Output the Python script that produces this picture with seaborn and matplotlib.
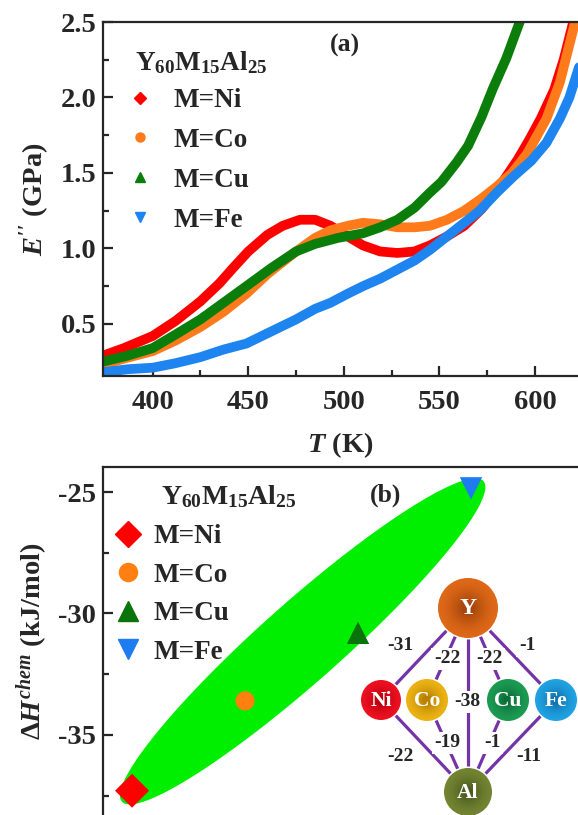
import numpy as np
import pandas as pd
import matplotlib
matplotlib.use("Agg")
import matplotlib.pyplot as plt
import seaborn as sns
from matplotlib.lines import Line2D
from matplotlib.patches import Circle
from matplotlib.ticker import MultipleLocator, FormatStrFormatter
from matplotlib.colors import to_rgb

# ---- panel (a): loss modulus vs temperature ----
alloys = ["M=Ni", "M=Co", "M=Cu", "M=Fe"]
colors = ["#fe0000", "#ff7a1a", "#0b7d0b", "#1e84ef"]

T_ni = [374, 385, 400, 412, 425, 435, 442, 450, 460, 468, 477, 485, 493, 502, 510, 519, 528, 537,
        545, 554, 563, 572, 582, 591, 597, 603, 610, 615, 620]
E_ni = [0.29, 0.34, 0.42, 0.52, 0.65, 0.77, 0.87, 0.98, 1.09, 1.15, 1.19, 1.19, 1.15, 1.08, 1.02,
        0.98, 0.97, 0.98, 1.02, 1.08, 1.15, 1.26, 1.42, 1.59, 1.72, 1.86, 2.05, 2.25, 2.50]
T_co = [374, 385, 400, 412, 425, 437, 449, 460, 468, 475, 485, 493, 502, 510, 519, 528, 537, 545,
        554, 563, 572, 580, 588, 596, 606, 613, 621]
E_co = [0.23, 0.27, 0.32, 0.39, 0.48, 0.58, 0.70, 0.83, 0.91, 0.98, 1.07, 1.12, 1.15, 1.17, 1.16,
        1.14, 1.14, 1.15, 1.19, 1.25, 1.33, 1.41, 1.50, 1.63, 1.86, 2.10, 2.50]
T_cu = [374, 387, 400, 412, 425, 437, 449, 462, 475, 485, 497, 510, 519, 528, 537, 545, 551, 559,
        565, 572, 578, 585, 592]
E_cu = [0.25, 0.29, 0.34, 0.43, 0.53, 0.64, 0.75, 0.87, 0.98, 1.03, 1.07, 1.10, 1.14, 1.19, 1.27,
        1.37, 1.44, 1.57, 1.68, 1.87, 2.06, 2.26, 2.50]
T_fe = [374, 387, 400, 412, 425, 437, 449, 462, 475, 485, 493, 502, 510, 519, 528, 537, 545, 554,
        563, 571, 580, 589, 598, 606, 613, 618, 623]
E_fe = [0.18, 0.20, 0.21, 0.24, 0.28, 0.33, 0.37, 0.45, 0.53, 0.60, 0.64, 0.70, 0.75, 0.80, 0.86,
        0.92, 0.99, 1.08, 1.17, 1.25, 1.37, 1.48, 1.58, 1.70, 1.86, 2.00, 2.20]

# ---- panel (b): mixing enthalpy ----
dH_chem = [-37.3, -33.6, -30.8, -24.85]
colors_b = ["#ff0000", "#ff8010", "#0a730a", "#1e7cf0"]
markers_b = ["D", "o", "^", "v"]
sizes_b = [300, 190, 260, 260]
ellipse_ends = [(-0.09, -37.75), (3.11, -24.55)]

# bond diagram (pair enthalpies)
atoms = ["Y", "Ni", "Co", "Cu", "Fe", "Al"]
bond_pairs = [("Y", "Ni"), ("Y", "Co"), ("Y", "Cu"), ("Y", "Fe"), ("Y", "Al"),
              ("Ni", "Al"), ("Co", "Al"), ("Cu", "Al"), ("Fe", "Al")]
bond_values = ["-31", "-22", "-22", "-1", "-38", "-22", "-19", "-1", "-11"]

sns.set_style("ticks")
plt.rcParams["font.family"] = ["Liberation Serif", "DejaVu Serif"]
plt.rcParams["font.weight"] = "bold"
plt.rcParams["axes.labelweight"] = "bold"
plt.rcParams["mathtext.fontset"] = "custom"
plt.rcParams["mathtext.rm"] = "Liberation Serif:bold"
plt.rcParams["mathtext.it"] = "Liberation Serif:italic:bold"
plt.rcParams["mathtext.bf"] = "Liberation Serif:bold"

W, H = 578, 815
fig = plt.figure(figsize=(W / 100, H / 100), dpi=100)
fs = 19.5
tfs = 20.5


def fbox(l, t, r, b):
    return [l / W, 1 - b / H, (r - l) / W, (b - t) / H]


def style_axes(ax):
    for s in ax.spines.values():
        s.set_linewidth(1.6)
    ax.tick_params(which="both", direction="in", width=1.6, labelsize=tfs)
    ax.tick_params(which="major", length=7)
    ax.tick_params(which="minor", length=4.5)
    ax.tick_params(axis="y", pad=5)
    ax.tick_params(axis="x", pad=10)
    ax.spines["right"].set_visible(False)


# ---------- (a) ----------
ax1 = fig.add_axes(fbox(103, 22, 578, 376))
frames = []
for name, t, e in zip(alloys, [T_ni, T_co, T_cu, T_fe], [E_ni, E_co, E_cu, E_fe]):
    frames.append(pd.DataFrame({"T": t, "E": e, "alloy": name}))
curves = pd.concat(frames, ignore_index=True)
sns.lineplot(data=curves, x="T", y="E", hue="alloy", palette=colors, lw=7,
             estimator=None, sort=False, legend=False, ax=ax1)
ax1.set_xlim(374, 622.5)
ax1.set_ylim(0.155, 2.5)
ax1.xaxis.set_major_locator(MultipleLocator(50))
ax1.xaxis.set_minor_locator(MultipleLocator(25))
ax1.yaxis.set_major_locator(MultipleLocator(0.5))
ax1.yaxis.set_minor_locator(MultipleLocator(0.25))
ax1.yaxis.set_major_formatter(FormatStrFormatter("%.1f"))
style_axes(ax1)
ax1.set_xlabel(r"$T$ (K)", fontsize=fs + 1, labelpad=11)
ax1.set_ylabel(r"$E''$ (GPa)", fontsize=fs + 1, labelpad=6)
ax1.text(0.51, 0.935, "(a)", transform=ax1.transAxes, fontsize=fs - 1, ha="center", va="center")
ax1.text(0.068, 0.885, r"Y$_{60}$M$_{15}$Al$_{25}$", transform=ax1.transAxes, fontsize=fs,
         ha="left", va="center")
handles_a = [Line2D([], [], ls="none", marker=m, color=c, markersize=ms)
             for m, c, ms in zip(["D", "o", "^", "v"], colors, [6.5, 6.5, 7, 7])]
ax1.legend(handles_a, alloys, loc="upper left", bbox_to_anchor=(126 / W, 1 - 88 / H),
           bbox_transform=fig.transFigure, frameon=False, fontsize=fs, handlelength=1,
           handletextpad=0.75, labelspacing=0.55, borderpad=0, borderaxespad=0)

# ---------- (b) ----------
ax2 = fig.add_axes(fbox(103, 467, 578, 815))
ax2.set_xlim(-0.257, 3.947)
ax2.set_ylim(-38.3, -23.97)
fig.canvas.draw()

# green ellipse band built in display space from its two tips
p0, p1 = ax2.transData.transform(ellipse_ends)
c = (p0 + p1) / 2
a = (p1 - p0) / 2
perp = np.array([-a[1], a[0]]) / np.hypot(*a) * 40
t = np.linspace(0, 2 * np.pi, 300)
pts = c + np.outer(np.cos(t), a) + np.outer(np.sin(t), perp)
pts = ax2.transData.inverted().transform(pts)
ax2.fill(pts[:, 0], pts[:, 1], color="#00ee00", lw=0, zorder=1)

dfb = pd.DataFrame({"pos": range(4), "dH": dH_chem, "alloy": alloys})
sns.scatterplot(data=dfb, x="pos", y="dH", hue="alloy", style="alloy", size="alloy",
                palette=dict(zip(alloys, colors_b)),
                markers=dict(zip(alloys, markers_b)), sizes=dict(zip(alloys, sizes_b)),
                linewidth=0, legend=False, ax=ax2, zorder=3)
ax2.set_xlim(-0.257, 3.947)
ax2.set_ylim(-38.3, -23.97)
ax2.yaxis.set_major_locator(MultipleLocator(5))
ax2.yaxis.set_minor_locator(MultipleLocator(2.5))
ax2.yaxis.set_major_formatter(FormatStrFormatter("%d"))
style_axes(ax2)
ax2.spines["bottom"].set_visible(False)
ax2.set_xticks([])
ax2.set_xlabel("")
ax2.set_ylabel(r"$\Delta H^{chem}$ (kJ/mol)", fontsize=fs + 1, labelpad=6)
ax2.text(0.595, 0.92, "(b)", transform=ax2.transAxes, fontsize=fs - 1, ha="center", va="center")
ax2.text(0.122, 0.914, r"Y$_{60}$M$_{15}$Al$_{25}$", transform=ax2.transAxes, fontsize=fs + 0.5,
         ha="left", va="center")
handles_b = [Line2D([], [], ls="none", marker=m, color=c, markersize=ms)
             for m, c, ms in zip(markers_b, colors_b, [13, 13, 14, 14])]
ax2.legend(handles_b, alloys, loc="upper left", bbox_to_anchor=(114 / W, 1 - 524 / H),
           bbox_transform=fig.transFigure, frameon=False, fontsize=fs, handlelength=1,
           handletextpad=0.45, labelspacing=0.5, borderpad=0, borderaxespad=0)

# ---------- bond diagram ----------
axd = fig.add_axes(fbox(355, 570, 578, 815))
axd.set_xlim(355, 578)
axd.set_ylim(815, 570)
axd.set_aspect("equal")
axd.axis("off")
pos = {"Y": (468, 608), "Ni": (381, 700), "Co": (427, 700), "Cu": (508, 700),
       "Fe": (556, 700), "Al": (468, 792)}
rad = {"Y": 30, "Ni": 20, "Co": 21, "Cu": 21, "Fe": 21, "Al": 24}
# sphere shading: brighter rim, darker middle
edge = {"Y": "#de6818", "Ni": "#ec1020", "Co": "#eab214", "Cu": "#1c9a52",
        "Fe": "#20a2e2", "Al": "#728432"}
core = {"Y": "#a6460c", "Ni": "#b8000e", "Co": "#b88200", "Cu": "#0e6e3a",
        "Fe": "#1274ae", "Al": "#4c5c1e"}
lbl_pos = [(400, 646), (447, 659), (489, 659), (527, 646), (467, 702),
           (400, 757), (447, 743), (492, 743), (529, 757)]
for (p, q), v, lp in zip(bond_pairs, bond_values, lbl_pos):
    axd.plot([pos[p][0], pos[q][0]], [pos[p][1], pos[q][1]], color="#7433a6", lw=2.3, zorder=1)
    axd.text(lp[0], lp[1], v, fontsize=14, ha="center", va="center", zorder=2,
             bbox=dict(boxstyle="square,pad=0.12", fc="white", ec="none"))
for at in atoms:
    x, y = pos[at]
    ce, cc = np.array(to_rgb(edge[at])), np.array(to_rgb(core[at]))
    axd.add_patch(Circle((x, y), rad[at] + 1.5, fc="white", ec="none", zorder=3))
    for k in range(12):
        f = k / 11
        axd.add_patch(Circle((x, y), rad[at] * (1 - 0.8 * f), fc=ce + (cc - ce) * f ** 1.5,
                             ec="none", zorder=4 + k * 0.01))
    axd.text(x, y + 1, at, color="white", fontsize=17 if at == "Y" else 15.5,
             ha="center", va="center", zorder=5)

fig.savefig("out.png", dpi=100)
